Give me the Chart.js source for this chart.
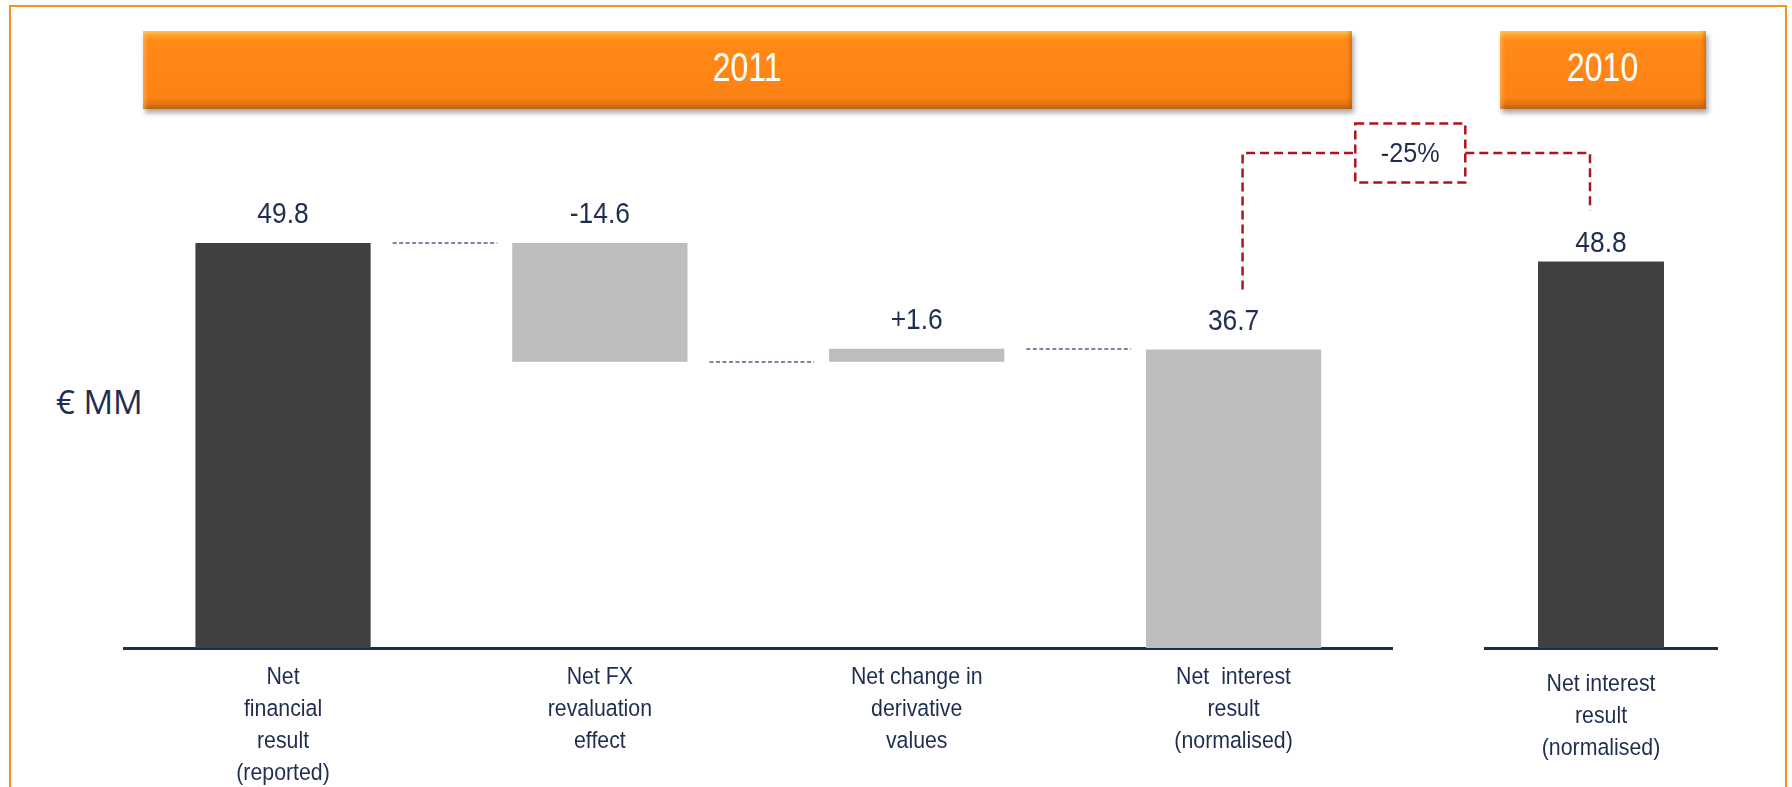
<!DOCTYPE html>
<html><head><meta charset="utf-8">
<script src="https://cdn.jsdelivr.net/npm/chart.js@4.4.1/dist/chart.umd.min.js"></script>
<style>
html,body{margin:0;padding:0;background:#fff;}
body{width:1792px;height:787px;position:relative;overflow:hidden;font-family:'Liberation Sans',Arial,sans-serif;}
.frame{position:absolute;left:9px;top:5px;width:1778px;height:820px;border:2.5px solid #F7941D;box-sizing:border-box;}
.banner{position:absolute;top:31px;height:78px;color:#fff;font-size:41px;display:flex;align-items:center;justify-content:center;box-sizing:border-box;padding-bottom:5px;
 background:linear-gradient(to bottom,#FFD060 0%,#FFA42A 5%,#FF8A18 12%,#FF8515 50%,#FB8314 86%,#E3710F 94%,#B9600F 100%);
 box-shadow:2px 4px 5px rgba(0,0,0,0.35), inset 4px 0 4px -2px rgba(255,200,120,0.6), inset -4px 0 4px -2px rgba(170,80,0,0.5);}
.banner span{display:inline-block;transform:scaleX(0.78);}
#b2011{left:143px;width:1209px;}
#b2010{left:1500px;width:206px;}
.unit{position:absolute;left:56px;top:379px;font-family:'Open Sans','Noto Sans',sans-serif;font-size:33px;color:#1F2D50;white-space:nowrap;}
canvas{position:absolute;left:0;top:0;}
</style>
</head>
<body>
<div class="frame"></div>
<div class="banner" id="b2011"><span>2011</span></div>
<div class="banner" id="b2010"><span>2010</span></div>
<div class="unit">€ MM</div>
<canvas id="cA" width="1792" height="787"></canvas>
<canvas id="cB" width="1792" height="787"></canvas>
<script>
// ---- data ----
const categories2011 = [["Net","financial","result","(reported)"],["Net FX","revaluation","effect"],["Net change in","derivative","values"],["Net  interest","result","(normalised)"]];
const values2011 = [49.8, -14.6, 1.6, 36.7];
const valueLabels2011 = ["49.8", "-14.6", "+1.6", "36.7"];
const barKinds2011 = ["reported", "delta", "delta", "subtotal"];
const categories2010 = [["Net interest","result","(normalised)"]];
const values2010 = [48.8];
const valueLabels2010 = ["48.8"];
const changeLabel = "-25%";

// ---- styles ----
const NAVY = '#1F2D50';
const DARK = '#404040';
const LIGHT = '#BDBDBD';
const FONT = "'Liberation Sans',Arial,sans-serif";

// waterfall ranges built from the values
const ranges2011 = [];
const levels2011 = [];
let running = 0;
values2011.forEach((v, i) => {
  if (barKinds2011[i] !== 'delta') { ranges2011.push([0, v]); running = v; }
  else { const s = running; running = +(running + v).toFixed(2); ranges2011.push([Math.min(s, running), Math.max(s, running)]); }
  levels2011.push(running);
});
const colors2011 = barKinds2011.map(k => k === 'reported' ? DARK : LIGHT);

function drawNarrow(ctx, text, x, y, sx) {
  ctx.save();
  ctx.translate(x, y);
  ctx.scale(sx, 1);
  ctx.fillText(text, 0, 0);
  ctx.restore();
}

function valueLabelPlugin(labels, offset) {
  return {
    id: 'valueLabels',
    afterDatasetsDraw(chart) {
      const ctx = chart.ctx;
      const meta = chart.getDatasetMeta(0);
      ctx.save();
      ctx.fillStyle = NAVY;
      ctx.font = "30px " + FONT;
      ctx.textAlign = 'center';
      ctx.textBaseline = 'alphabetic';
      meta.data.forEach((bar, i) => {
        const top = Math.min(bar.y, bar.base);
        drawNarrow(ctx, labels[i], bar.x, top - offset, 0.88);
      });
      ctx.restore();
    }
  };
}

function tickLabelPlugin(cats, firstOffset) {
  return {
    id: 'tickLabels',
    afterDraw(chart) {
      const ctx = chart.ctx;
      const xs = chart.scales.x;
      const y0 = chart.chartArea.bottom + firstOffset;
      ctx.save();
      ctx.fillStyle = NAVY;
      ctx.font = "24.5px " + FONT;
      ctx.textAlign = 'center';
      ctx.textBaseline = 'middle';
      cats.forEach((lines, i) => {
        const x = xs.getPixelForValue(i);
        lines.forEach((t, j) => drawNarrow(ctx, t, x, y0 + j * 32, 0.87));
      });
      ctx.restore();
    }
  };
}

const connectorPlugin = {
  id: 'connectors',
  afterDatasetsDraw(chart) {
    const ctx = chart.ctx;
    const meta = chart.getDatasetMeta(0);
    const ys = chart.scales.y;
    ctx.save();
    ctx.strokeStyle = '#7888A2';
    ctx.lineWidth = 2;
    ctx.setLineDash([4, 2.5]);
    for (let i = 0; i < meta.data.length - 1; i++) {
      const a = meta.data[i], b = meta.data[i + 1];
      const y = Math.round(ys.getPixelForValue(levels2011[i]));
      ctx.beginPath();
      ctx.moveTo(a.x + a.width / 2 + 22, y);
      ctx.lineTo(b.x - b.width / 2 - 15, y);
      ctx.stroke();
    }
    ctx.restore();
  }
};

function baseOptions(padLeft, padRight, yMax) {
  return {
    responsive: false,
    animation: false,
    devicePixelRatio: 1,
    layout: { padding: { left: padLeft, right: padRight, top: 160, bottom: 0 } },
    plugins: { legend: { display: false }, tooltip: { enabled: false } },
    scales: {
      x: {
        type: 'category',
        offset: true,
        z: 1,
        grid: { display: false, drawTicks: false },
        border: { display: true, color: NAVY, width: 3 },
        ticks: { display: false },
        afterFit: s => { s.height = 139; }
      },
      y: { display: false, min: 0, max: yMax }
    }
  };
}

const chartA = new Chart(document.getElementById('cA'), {
  type: 'bar',
  data: {
    labels: categories2011,
    datasets: [{ data: ranges2011, backgroundColor: colors2011, barPercentage: 0.553, categoryPercentage: 1, borderWidth: 0 }]
  },
  options: baseOptions(124.6, 400, 60),
  plugins: [connectorPlugin, valueLabelPlugin(valueLabels2011, 20), tickLabelPlugin(categories2011, 29)]
});

const bracketPlugin = {
  id: 'bracket',
  afterDraw(chart) {
    const ctx = chart.ctx;
    const barL = chartA.getDatasetMeta(0).data[3];
    const barR = chart.getDatasetMeta(0).data[0];
    const xL = barL.x + 9, xR = barR.x - 11;
    const yH = chart.chartArea.top - 7;
    const yLb = Math.min(barL.y, barL.base) - 60;
    const yRb = Math.min(barR.y, barR.base) - 51;
    const cx = (xL + xR) / 2 - 6, bw = 110, bh = 59;
    ctx.save();
    ctx.strokeStyle = '#AE1519';
    ctx.lineWidth = 2.5;
    ctx.setLineDash([9, 5]);
    ctx.beginPath();
    ctx.moveTo(xL, yLb); ctx.lineTo(xL, yH); ctx.lineTo(cx - bw / 2, yH);
    ctx.moveTo(cx + bw / 2, yH); ctx.lineTo(xR, yH); ctx.lineTo(xR, yRb);
    ctx.stroke();
    ctx.beginPath();
    ctx.rect(cx - bw / 2, yH - bh / 2, bw, bh);
    ctx.stroke();
    ctx.setLineDash([]);
    ctx.fillStyle = NAVY;
    ctx.font = "28px " + FONT;
    ctx.textAlign = 'center';
    ctx.textBaseline = 'middle';
    drawNarrow(ctx, changeLabel, cx, yH + 1, 0.9);
    ctx.restore();
  }
};

const chartB = new Chart(document.getElementById('cB'), {
  type: 'bar',
  data: {
    labels: categories2010,
    datasets: [{ data: values2010, backgroundColor: DARK, barPercentage: 0.543, categoryPercentage: 1, borderWidth: 0 }]
  },
  options: baseOptions(1485, 75, 61.6),
  plugins: [valueLabelPlugin(valueLabels2010, 9), tickLabelPlugin(categories2010, 36), bracketPlugin]
});
</script>
</body></html>
